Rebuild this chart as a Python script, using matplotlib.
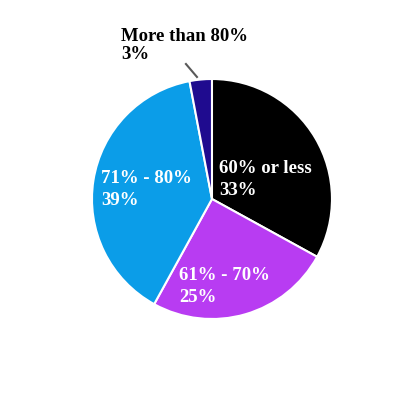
import matplotlib.pyplot as plt

# Data ########################################################################

categories = ["60% or less", "61% - 70%", "71% - 80%", "More than 80%"]
shares = [33, 25, 39, 3]
colors = ["#000000", "#b83cf2", "#0b9de8", "#1f0b8f"]

# Plot ########################################################################

fig = plt.figure(figsize=(4.2, 4.0), dpi=100)
ax = fig.add_axes([0.219, 0.2025, 0.5714, 0.6])

ax.pie(shares, colors=colors, startangle=90, counterclock=False, radius=1,
       wedgeprops=dict(edgecolor="white", linewidth=1.5))
ax.set_xlim(-1, 1)
ax.set_ylim(-1, 1)
ax.set_aspect("equal")
ax.axis("off")

font = dict(family="Liberation Serif", weight="bold", size=13.5)

# label anchors (left edge, baseline of last line) in radius units
label_pos = [(0.058, 0.033), (-0.275, -0.858), (-0.925, -0.05), (-0.76, 1.164)]
for cat, val, (x, y) in zip(categories, shares, label_pos):
    c = "black" if cat == "More than 80%" else "white"
    ax.text(x, y, f"{cat}\n{val}%", color=c, ha="left", va="baseline",
            linespacing=1.38 if c == "white" else 1.1, **font)

# leader line for the small slice
ax.plot([-0.217, -0.125], [1.125, 1.017], color="#595959", lw=1.5,
        clip_on=False)

plt.savefig("out.png", dpi=100)
